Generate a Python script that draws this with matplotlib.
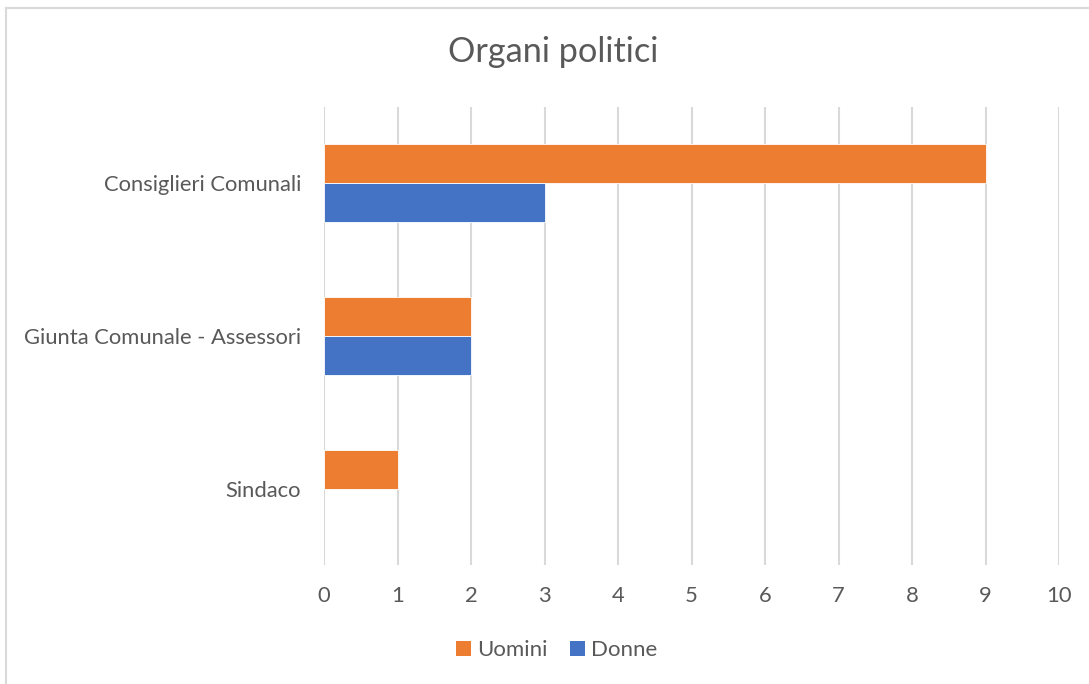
import matplotlib
matplotlib.use("Agg")
import matplotlib.pyplot as plt
from matplotlib.lines import Line2D
from matplotlib.patches import Patch
import numpy as np

categories = ["Consiglieri Comunali", "Giunta Comunale - Assessori", "Sindaco"]
uomini = [9, 2, 1]
donne = [3, 2, 0]
xticks = [0, 1, 2, 3, 4, 5, 6, 7, 8, 9, 10]

ORANGE = "#ED7D31"
BLUE = "#4472C4"
TEXT = "#595959"
GRID = "#D9D9D9"

plt.rcParams['font.family'] = ['Lato', 'DejaVu Sans']

W, H = 1089, 684
fig = plt.figure(figsize=(W / 100, H / 100), dpi=100)
ax = fig.add_axes([324 / W, 1 - 565 / H, 735 / W, 458 / H])

y = np.arange(len(categories))
h = 0.255
ax.barh(y - h / 2, uomini, height=h, color=ORANGE,
        edgecolor=["white" if v > 0 else "none" for v in uomini], linewidth=0.6, zorder=3, label="Uomini")
ax.barh(y + h / 2, donne, height=h, color=BLUE,
        edgecolor=["white" if v > 0 else "none" for v in donne], linewidth=0.6, zorder=3, label="Donne")

ax.set_xlim(0, 10)
ax.set_ylim(2.5, -0.5)
ax.set_xticks(xticks)
ax.set_xticklabels([str(t) for t in xticks])
ax.set_yticks(y)
ax.set_yticklabels(categories)
ax.grid(axis="x", color=GRID, linewidth=1.5, zorder=0)
for s in ax.spines.values():
    s.set_visible(False)
ax.tick_params(axis="both", length=0, labelsize=15.8, colors=TEXT)
ax.tick_params(axis="x", pad=15)
ax.tick_params(axis="y", pad=16.5)

fig.text(553 / W, 1 - 52 / H, "Organi politici", ha="center", va="center", fontsize=24.7, color=TEXT)

handles = [Patch(facecolor=ORANGE, label="Uomini"), Patch(facecolor=BLUE, label="Donne")]
fig.legend(handles=handles, loc="center", bbox_to_anchor=(557 / W, 1 - 650 / H), ncol=2, frameon=False,
           fontsize=16, labelcolor=TEXT, handlelength=0.65, handleheight=0.65, handletextpad=0.3, columnspacing=1.0)

fig.add_artist(Line2D([6 / W, 6 / W], [0, 1 - 8 / H], transform=fig.transFigure, color=GRID, linewidth=1.5))
fig.add_artist(Line2D([6 / W, 1], [1 - 8 / H, 1 - 8 / H], transform=fig.transFigure, color=GRID, linewidth=1.5))

fig.savefig("out.png", dpi=100)
